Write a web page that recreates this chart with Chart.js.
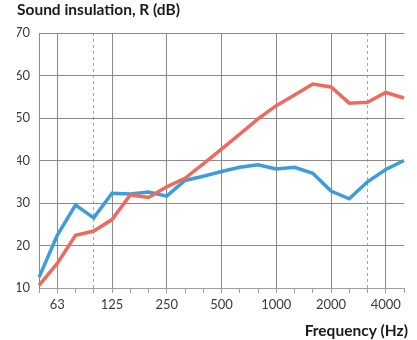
<!DOCTYPE html>
<html>
<head>
<meta charset="utf-8">
<script src="https://cdn.jsdelivr.net/npm/chart.js@4"></script>
<style>
  html, body { margin: 0; padding: 0; background: #fff; }
  #wrap { width: 417px; height: 340px; }
</style>
</head>
<body>
<div id="wrap"><canvas id="c" width="417" height="340"></canvas></div>
<script>
// One-third octave band centre frequencies (Hz)
const bands = ['50','63','80','100','125','160','200','250','315','400','500','630','800','1000','1250','1600','2000','2500','3150','4000','5000'];
// Bands that carry a label and a solid grid line
const octaveLabels = ['63','125','250','500','1000','2000','4000'];
// Bands marked with a dashed line (limits of the standard range)
const dashedBands = ['100','3150'];

// Sound reduction index R (dB) per band
const redValues  = [10.6, 15.8, 22.4, 23.4, 26.1, 31.9, 31.3, 33.8, 35.8, 39.2, 42.7, 46.2, 49.8, 52.9, 55.4, 58.0, 57.3, 53.5, 53.7, 56.0, 54.7];
const blueValues = [12.5, 22.4, 29.5, 26.5, 32.3, 32.1, 32.6, 31.6, 35.3, 36.3, 37.4, 38.4, 39.0, 38.0, 38.4, 37.0, 32.8, 31.0, 35.0, 37.9, 40.0];

const yMin = 10, yMax = 70, yStep = 10;

const GRID = '#8a8a8a';
const TEXT = '#3a3a3a';
const FONT = 'Lato';

// Chart and axis titles
const titlesPlugin = {
  id: 'titles',
  afterDraw(chart) {
    const ctx = chart.ctx;
    ctx.save();
    ctx.fillStyle = '#1a1a1a';
    ctx.font = 'bold 15.5px ' + FONT;
    ctx.textBaseline = 'alphabetic';
    ctx.textAlign = 'left';
    ctx.fillText('Sound insulation, R (dB)', 17, 15);
    ctx.textAlign = 'right';
    ctx.fillText('Frequency (Hz)', 408, 335.5);
    ctx.restore();
  }
};

new Chart(document.getElementById('c'), {
  type: 'line',
  data: {
    labels: bands,
    datasets: [
      { data: redValues,  borderColor: '#ee6a5e', borderWidth: 3.5, pointRadius: 0, tension: 0 },
      { data: blueValues, borderColor: '#3d9cdb', borderWidth: 3.5, pointRadius: 0, tension: 0 }
    ]
  },
  options: {
    responsive: false,
    animation: false,
    layout: { padding: { left: 17, right: 13, top: 33, bottom: 0 } },
    plugins: { legend: { display: false }, tooltip: { enabled: false } },
    scales: {
      x: {
        type: 'category',
        offset: false,
        grid: {
          offset: false,
          lineWidth: 1,
          color: (ctx) => {
            const b = bands[ctx.index];
            if (octaveLabels.includes(b)) return GRID;
            if (dashedBands.includes(b)) return '#a8a8a8';
            return 'rgba(0,0,0,0)';
          },
          drawTicks: true,
          tickLength: 5,
          tickColor: '#a0a0a0'
        },
        border: {
          color: '#a0a0a0',
          dash: (ctx) => (ctx.index !== undefined && dashedBands.includes(bands[ctx.index])) ? [3, 3] : []
        },
        ticks: {
          autoSkip: false,
          maxRotation: 0,
          minRotation: 0,
          padding: 4,
          color: TEXT,
          font: { family: FONT, size: 13 },
          callback: (v, i) => octaveLabels.includes(bands[i]) ? bands[i] : ''
        },
        afterFit: (s) => { s.height = 52; }
      },
      y: {
        min: yMin,
        max: yMax,
        grid: { color: GRID, lineWidth: 1, drawTicks: false },
        border: { color: GRID },
        ticks: {
          stepSize: yStep,
          padding: 9,
          color: TEXT,
          font: { family: FONT, size: 13 }
        },
        afterFit: (s) => { s.width = 22; }
      }
    }
  },
  plugins: [titlesPlugin]
});
</script>
</body>
</html>
